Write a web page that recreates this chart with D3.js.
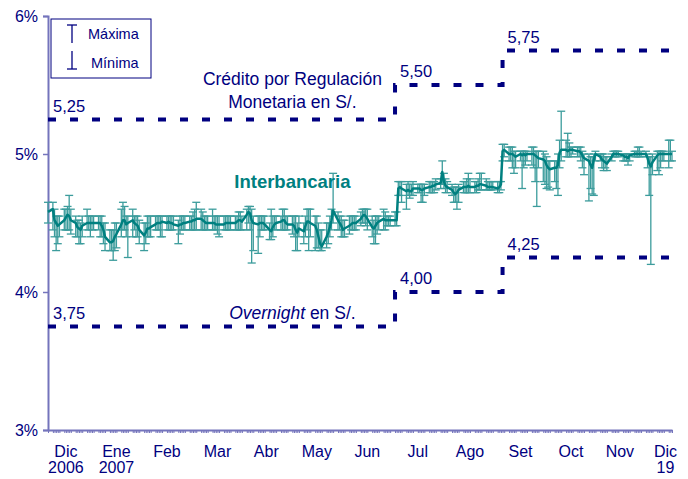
<!DOCTYPE html>
<html>
<head>
<meta charset="utf-8">
<script src="https://cdn.jsdelivr.net/npm/d3@7"></script>
<style>
body { margin: 0; background: #fff; }
text { font-family: Arial, "Liberation Sans", sans-serif; }
</style>
</head>
<body>
<div id="chart"></div>
<script>
// Periodo: dias habiles del 1 dic 2006 al 19 dic 2007
const inicio = "2006-12-01", fin = "2007-12-19";

// Tasa interbancaria promedio (%), una por dia habil
const tasa = [
  4.58,4.60,4.52,4.50,4.48,4.49,4.52,4.54,4.56,4.55,4.52,4.50,4.47,4.46,4.45,4.48,4.50,4.50,4.50,4.50,4.50, // dic
  4.50,4.50,4.48,4.45,4.40,4.36,4.36,4.37,4.40,4.42,4.49,4.52,4.52,4.49,4.50,4.52,4.50,4.49,4.48,4.45,4.41,4.43,4.46, // ene
  4.46,4.47,4.49,4.50,4.50,4.50,4.51,4.50,4.51,4.50,4.50,4.49,4.48,4.49,4.49,4.50,4.50,4.51,4.51,4.52, // feb
  4.52,4.53,4.53,4.52,4.51,4.50,4.50,4.50,4.50,4.49,4.49,4.49,4.49,4.50,4.50,4.50,4.50,4.50,4.51,4.52,4.52,4.51, // mar
  4.56,4.58,4.57,4.52,4.50,4.49,4.50,4.50,4.50,4.49,4.45,4.44,4.47,4.49,4.50,4.51,4.52,4.52,4.50,4.49,4.49, // abr
  4.48,4.45,4.43,4.46,4.44,4.48,4.51,4.51,4.50,4.48,4.45,4.40,4.35,4.33,4.40,4.43,4.47,4.52,4.59,4.52,4.50,4.48,4.45, // may
  4.46,4.48,4.49,4.50,4.50,4.50,4.53,4.55,4.56,4.55,4.53,4.47,4.46,4.48,4.50,4.51,4.53,4.52,4.52,4.52,4.52, // jun
  4.52,4.52,4.75,4.76,4.75,4.73,4.74,4.73,4.73,4.75,4.75,4.75,4.74,4.74,4.75,4.76,4.76,4.77,4.77,4.78,4.79,4.87, // jul
  4.80,4.77,4.76,4.74,4.72,4.71,4.72,4.74,4.76,4.76,4.76,4.77,4.76,4.76,4.77,4.77,4.78,4.78,4.77,4.76,4.76,4.76,4.76, // ago
  4.75,4.76,4.78,5.02,5.03,5.00,5.00,5.00,4.99,4.98,5.00,4.99,5.00,4.99,5.00,5.00,5.00,4.99,4.98,4.97, // set
  4.96,4.95,4.92,4.90,4.89,4.90,4.90,4.92,5.01,5.03,5.03,5.02,5.03,5.03,5.03,5.02,5.02,5.01,4.99,4.97,4.95,4.92,4.90, // oct
  4.96,5.00,4.98,4.96,4.95,4.94,4.93,4.98,5.00,5.00,5.00,5.00,4.99,4.98,4.98,4.97,4.99,5.00,5.00,5.00,5.00,5.00, // nov
  5.00,4.97,4.93,4.91,4.94,4.99,5.00,5.00,5.00,5.00,5.00,5.00,5.00 // dic
];
const maxima = [
  4.65,4.65,4.60,4.55,4.55,4.55,4.60,4.60,4.62,4.70,4.60,4.55,4.52,4.52,4.50,4.55,4.60,4.55,4.55,4.55,4.55,
  4.55,4.55,4.55,4.50,4.50,4.45,4.45,4.45,4.50,4.50,4.60,4.65,4.62,4.55,4.55,4.60,4.55,4.55,4.55,4.52,4.50,4.50,4.55,
  4.55,4.55,4.55,4.55,4.55,4.55,4.55,4.55,4.55,4.55,4.55,4.55,4.52,4.55,4.55,4.55,4.55,4.55,4.55,4.58,
  4.60,4.65,4.60,4.58,4.55,4.55,4.55,4.60,4.55,4.55,4.55,4.55,4.55,4.55,4.55,4.55,4.55,4.55,4.55,4.58,4.58,4.55,
  4.60,4.62,4.62,4.60,4.55,4.55,4.55,4.55,4.55,4.55,4.50,4.60,4.55,4.55,4.55,4.55,4.60,4.60,4.55,4.55,4.55,
  4.55,4.55,4.50,4.55,4.50,4.55,4.60,4.60,4.60,4.55,4.55,4.50,4.45,4.45,4.50,4.50,4.55,4.60,4.86,4.58,4.55,4.55,4.52,
  4.52,4.55,4.55,4.55,4.55,4.55,4.58,4.60,4.60,4.60,4.60,4.55,4.52,4.55,4.55,4.55,4.60,4.58,4.55,4.55,4.55,
  4.58,4.58,4.80,4.80,4.80,4.78,4.80,4.78,4.78,4.80,4.78,4.78,4.78,4.78,4.78,4.80,4.80,4.80,4.80,4.82,4.82,4.95,
  4.86,4.82,4.80,4.78,4.76,4.76,4.76,4.78,4.80,4.80,4.82,4.86,4.82,4.80,4.80,4.82,4.86,4.86,4.82,4.80,4.80,4.80,4.80,
  4.80,4.80,4.80,5.07,5.07,5.05,5.05,5.05,5.02,5.02,5.02,5.02,5.02,5.02,5.02,5.05,5.05,5.02,5.02,5.02,
  5.02,5.00,4.98,4.95,4.95,4.95,4.95,5.00,5.10,5.31,5.10,5.15,5.08,5.05,5.05,5.05,5.05,5.05,5.02,5.00,5.00,4.98,4.98,
  5.00,5.02,5.00,5.00,5.00,4.98,4.98,5.00,5.02,5.02,5.02,5.02,5.00,5.00,5.00,5.00,5.00,5.02,5.02,5.05,5.05,5.02,
  5.02,5.00,4.98,4.98,5.00,5.02,5.02,5.02,5.02,5.02,5.10,5.10,5.02
];
const minima = [
  4.50,4.45,4.40,4.30,4.35,4.40,4.45,4.45,4.45,4.45,4.42,4.40,4.40,4.35,4.35,4.40,4.45,4.45,4.40,4.45,4.45,
  4.45,4.40,4.40,4.35,4.30,4.30,4.30,4.23,4.30,4.32,4.40,4.45,4.45,4.40,4.25,4.40,4.45,4.40,4.40,4.35,4.30,4.35,4.40,
  4.40,4.40,4.45,4.45,4.45,4.40,4.40,4.45,4.45,4.45,4.45,4.45,4.35,4.42,4.45,4.45,4.45,4.45,4.45,4.45,
  4.45,4.45,4.45,4.45,4.45,4.45,4.45,4.45,4.45,4.45,4.42,4.40,4.45,4.45,4.45,4.45,4.45,4.45,4.45,4.45,4.45,4.45,
  4.45,4.50,4.45,4.21,4.30,4.28,4.40,4.45,4.45,4.45,4.38,4.38,4.40,4.45,4.45,4.45,4.45,4.45,4.45,4.45,4.42,
  4.40,4.30,4.30,4.40,4.35,4.40,4.45,4.30,4.40,4.30,4.32,4.32,4.30,4.30,4.32,4.35,4.40,4.45,4.50,4.45,4.45,4.40,4.40,
  4.40,4.42,4.45,4.45,4.45,4.45,4.48,4.50,4.50,4.48,4.45,4.40,4.35,4.35,4.42,4.45,4.45,4.45,4.48,4.48,4.48,
  4.48,4.48,4.70,4.70,4.65,4.60,4.70,4.68,4.70,4.70,4.72,4.72,4.65,4.65,4.70,4.72,4.72,4.72,4.72,4.74,4.75,4.78,
  4.75,4.72,4.72,4.70,4.65,4.65,4.60,4.65,4.72,4.72,4.72,4.72,4.72,4.72,4.72,4.74,4.74,4.74,4.74,4.74,4.74,4.74,4.74,
  4.72,4.72,4.74,4.95,4.98,4.95,4.95,4.90,4.86,4.90,4.95,4.75,4.90,4.92,4.95,4.92,4.90,4.80,4.62,4.90,
  4.80,4.78,4.75,4.76,4.74,4.80,4.75,4.70,4.90,4.95,4.98,4.98,4.98,4.98,5.00,4.98,4.98,4.95,4.90,4.85,4.66,4.75,4.71,
  4.70,4.95,4.95,4.90,4.88,4.90,4.88,4.95,4.98,4.98,4.98,4.98,4.95,4.95,4.95,4.92,4.95,4.98,4.98,4.98,4.98,4.98,
  4.98,4.90,4.70,4.20,4.85,4.88,4.85,4.90,4.95,4.95,4.90,4.95,4.95
];

// Tasas de referencia (escalones)
const cambiosFechas = ["2006-12-01", "2007-07-02", "2007-09-06", "2007-12-19"];
const creditoTasas = [5.25, 5.50, 5.75, 5.75];
const overnightTasas = [3.75, 4.00, 4.25, 4.25];

// Eje X
const mesesFechas = ["2006-12-12","2007-01-12","2007-02-12","2007-03-15","2007-04-14","2007-05-15",
  "2007-06-15","2007-07-16","2007-08-17","2007-09-17","2007-10-18","2007-11-17","2007-12-15"];
const mesesEtiq = ["Dic","Ene","Feb","Mar","Abr","May","Jun","Jul","Ago","Set","Oct","Nov","Dic"];
const aniosEtiq = ["2006","2007","","","","","","","","","","","19"];
const yTicks = [3, 4, 5, 6];

const navy = "#000080", teal = "#008080", axisCol = "#7474bc";
const cfg = { w: 688, h: 479, margin: { top: 16, right: 16, bottom: 49, left: 48 } };
const width = cfg.w - cfg.margin.left - cfg.margin.right,
      height = cfg.h - cfg.margin.top - cfg.margin.bottom;

const parse = d3.timeParse("%Y-%m-%d");
const x = d3.scaleTime().domain([parse(inicio), parse(fin)]).range([0, width]);
const y = d3.scaleLinear().domain([3, 6]).range([height, 0]);

const dias = d3.timeDay.range(parse(inicio), d3.timeDay.offset(parse(fin), 1))
  .filter(d => d.getDay() !== 0 && d.getDay() !== 6);
const datos = dias.map((d, i) => ({ fecha: d, tasa: tasa[i], max: maxima[i], min: minima[i] }));

const svg = d3.select("#chart").append("svg")
  .attr("width", cfg.w).attr("height", cfg.h);
const g = svg.append("g")
  .attr("transform", `translate(${cfg.margin.left},${cfg.margin.top})`);

// Eje Y
const yAxis = g.append("g").call(d3.axisLeft(y).tickValues(yTicks).tickSize(5).tickFormat(d => d + "%"));
yAxis.select(".domain").attr("stroke", axisCol).attr("stroke-width", 2);
yAxis.selectAll(".tick line").attr("stroke", axisCol).attr("stroke-width", 1.5);
yAxis.selectAll(".tick text").attr("fill", navy).style("font-size", "16px").attr("x", -10);

// Eje X: linea con marcas diarias
const xAxis = g.append("g").attr("transform", `translate(0,${height})`)
  .call(d3.axisBottom(x).tickValues(dias).tickSize(3).tickFormat("").tickSizeOuter(0));
xAxis.select(".domain").attr("stroke", axisCol).attr("stroke-width", 2);
xAxis.selectAll(".tick line").attr("stroke", axisCol).attr("stroke-width", 1);

const etiq = g.append("g").attr("fill", navy).style("font-size", "16px").attr("text-anchor", "middle");
etiq.selectAll(".mes").data(mesesFechas).enter().append("text")
  .attr("x", d => x(parse(d))).attr("y", height + 27).text((d, i) => mesesEtiq[i]);
etiq.selectAll(".anio").data(mesesFechas).enter().append("text")
  .attr("x", d => x(parse(d))).attr("y", height + 43).text((d, i) => aniosEtiq[i]);

// Escalones de referencia
const paso = d3.line().curve(d3.curveStepAfter).x(d => x(parse(d.f))).y(d => y(d.v));
[creditoTasas, overnightTasas].forEach(serie => {
  const pts = cambiosFechas.map((f, i) => ({ f: f, v: serie[i] }));
  g.append("path").attr("d", paso(pts))
    .attr("fill", "none").attr("stroke", navy).attr("stroke-width", 4)
    .attr("stroke-dasharray", "8,14");
  g.selectAll(null).data(pts.slice(0, 3)).enter().append("text")
    .attr("x", d => x(parse(d.f)) + 5).attr("y", d => y(d.v) - 8)
    .attr("fill", navy).style("font-size", "16.5px")
    .text(d => d3.format(".2f")(d.v).replace(".", ","));
});

// Barras maximo-minimo
const barras = g.append("g").attr("stroke", "#3c9c9c").attr("stroke-width", 1.3);
barras.selectAll(".vert").data(datos).enter().append("line")
  .attr("x1", d => x(d.fecha)).attr("x2", d => x(d.fecha))
  .attr("y1", d => y(d.max)).attr("y2", d => y(d.min));
barras.selectAll(".capmax").data(datos).enter().append("line")
  .attr("x1", d => x(d.fecha) - 4).attr("x2", d => x(d.fecha) + 4)
  .attr("y1", d => y(d.max)).attr("y2", d => y(d.max));
barras.selectAll(".capmin").data(datos).enter().append("line")
  .attr("x1", d => x(d.fecha) - 4).attr("x2", d => x(d.fecha) + 4)
  .attr("y1", d => y(d.min)).attr("y2", d => y(d.min));

// Linea interbancaria
g.append("path").datum(datos)
  .attr("d", d3.line().x(d => x(d.fecha)).y(d => y(d.tasa)))
  .attr("fill", "none").attr("stroke", teal).attr("stroke-width", 2.5)
  .attr("stroke-linejoin", "round");

// Anotaciones
const xc = x(parse("2007-04-30"));
g.append("text").attr("x", xc).attr("y", y(5.50)).attr("text-anchor", "middle")
  .attr("fill", navy).style("font-size", "17.5px").text("Crédito por Regulación");
g.append("text").attr("x", xc).attr("y", y(5.335)).attr("text-anchor", "middle")
  .attr("fill", navy).style("font-size", "17.5px").text("Monetaria en S/.");
const ov = g.append("text").attr("x", xc).attr("y", y(3.805)).attr("text-anchor", "middle")
  .attr("fill", navy).style("font-size", "17.5px");
ov.append("tspan").style("font-style", "italic").text("Overnight");
ov.append("tspan").text(" en S/.");
g.append("text").attr("x", xc).attr("y", y(4.752)).attr("text-anchor", "middle")
  .attr("fill", teal).style("font-size", "18.5px").style("font-weight", "bold").text("Interbancaria");

// Leyenda
const ley = svg.append("g").attr("transform", "translate(51,19)");
ley.append("rect").attr("width", 100).attr("height", 59)
  .attr("fill", "#fff").attr("stroke", navy).attr("stroke-width", 1);
const sim = ley.append("g").attr("stroke", navy).attr("stroke-width", 1.3);
sim.append("line").attr("x1", 16).attr("x2", 26).attr("y1", 6).attr("y2", 6);
sim.append("line").attr("x1", 21).attr("x2", 21).attr("y1", 6).attr("y2", 24);
sim.append("line").attr("x1", 16).attr("x2", 26).attr("y1", 50).attr("y2", 50);
sim.append("line").attr("x1", 21).attr("x2", 21).attr("y1", 32).attr("y2", 50);
ley.append("text").attr("x", 37).attr("y", 20).attr("fill", navy).style("font-size", "14.5px").text("Máxima");
ley.append("text").attr("x", 40).attr("y", 49).attr("fill", navy).style("font-size", "14.5px").text("Mínima");
</script>
</body>
</html>
